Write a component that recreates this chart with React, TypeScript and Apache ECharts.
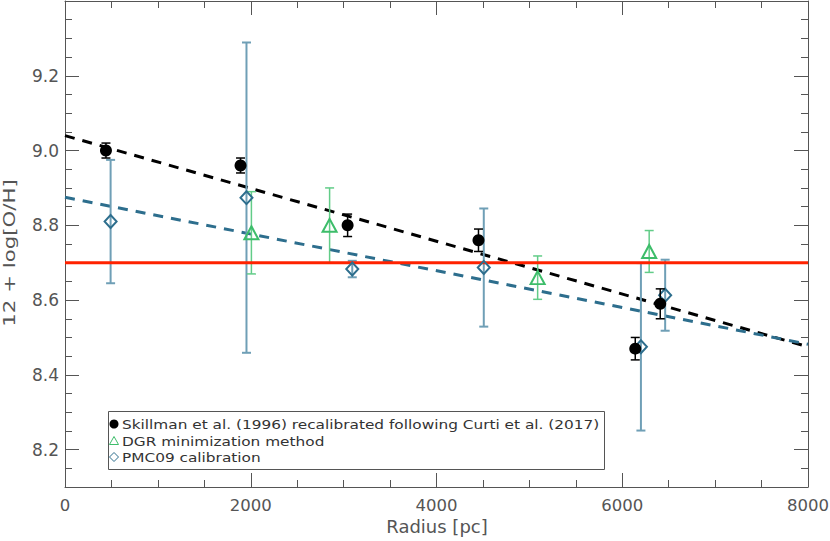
import React, { useEffect, useRef } from "react";
import * as echarts from "echarts";

// Skillman et al. (1996) recalibrated following Curti et al. (2017)
const skillmanR = [441, 1890, 3043, 4452, 6140, 6409];
const skillmanOH = [9.0, 8.96, 8.8, 8.76, 8.47, 8.59];
const skillmanErr = [0.02, 0.02, 0.03, 0.03, 0.03, 0.04];

// DGR minimization method
const dgrR = [2007, 2849, 5089, 6290];
const dgrOH = [8.78, 8.8, 8.66, 8.73];
const dgrErr = [0.11, 0.1, 0.058, 0.056];

// PMC09 calibration
const pmcR = [491, 1954, 3093, 4509, 6201, 6462];
const pmcOH = [8.81, 8.874, 8.683, 8.687, 8.475, 8.613];
const pmcErr = [0.165, 0.415, 0.022, 0.158, 0.224, 0.095];

// gradient fits and solar reference value
const fitRadius = [0, 8000];
const skillmanFit = [9.04, 8.475];
const pmcFit = [8.875, 8.482];
const solarOH = [8.7, 8.7];

const legendLabels = [
  "Skillman et al. (1996) recalibrated following Curti et al. (2017)",
  "DGR minimization method",
  "PMC09 calibration",
];

const AX = "#555";
const FONT = "DejaVu Sans";

function errorSeries(xs: number[], ys: number[], errs: number[], color: string, width: number, capHalf: number, z: number) {
  return {
    type: "custom",
    z,
    silent: true,
    xAxisIndex: 0,
    yAxisIndex: 0,
    data: xs.map((x, i) => [x, ys[i] - errs[i], ys[i] + errs[i]]),
    encode: { x: 0, y: [1, 2] },
    renderItem: (params: any, api: any) => {
      const x = api.value(0);
      const lo = api.coord([x, api.value(1)]);
      const hi = api.coord([x, api.value(2)]);
      const style = { stroke: color, lineWidth: width, fill: "none" };
      return {
        type: "group",
        children: [
          { type: "line", shape: { x1: lo[0], y1: lo[1], x2: hi[0], y2: hi[1] }, style },
          { type: "line", shape: { x1: lo[0] - capHalf, y1: lo[1], x2: lo[0] + capHalf, y2: lo[1] }, style },
          { type: "line", shape: { x1: hi[0] - capHalf, y1: hi[1], x2: hi[0] + capHalf, y2: hi[1] }, style },
        ],
      };
    },
  };
}

function makeX(pos: "bottom" | "top") {
  return {
    type: "value",
    position: pos,
    min: 0,
    max: 8000,
    interval: 2000,
    axisLine: { show: true, onZero: false, lineStyle: { color: AX, width: 1 } },
    axisTick: { show: true, inside: true, length: 14, lineStyle: { color: AX, width: 1 } },
    minorTick: { show: true, splitNumber: 4, length: 7, lineStyle: { color: AX, width: 1 } },
    axisLabel: {
      show: pos === "bottom",
      color: AX,
      fontSize: 16.5,
      fontFamily: FONT,
      margin: 10,
      formatter: (v: number) => String(v),
    },
    splitLine: { show: false },
    minorSplitLine: { show: false },
  };
}

function makeY(pos: "left" | "right") {
  return {
    type: "value",
    position: pos,
    min: 8.1,
    max: 9.4,
    splitNumber: 6,
    minInterval: 0.2,
    maxInterval: 0.2,
    axisLine: { show: true, onZero: false, lineStyle: { color: AX, width: 1 } },
    axisTick: { show: true, inside: true, length: 14, lineStyle: { color: AX, width: 1 } },
    minorTick: { show: true, splitNumber: 4, length: 7, lineStyle: { color: AX, width: 1 } },
    axisLabel: {
      show: pos === "left",
      color: AX,
      fontSize: 17,
      fontFamily: FONT,
      margin: 6,
      showMinLabel: false,
      showMaxLabel: false,
      formatter: (v: number) => v.toFixed(1),
    },
    splitLine: { show: false },
    minorSplitLine: { show: false },
  };
}

export default function App() {
  const ref = useRef<HTMLDivElement>(null);
  useEffect(() => {
    if (!ref.current) return;
    const chart = echarts.init(ref.current, null, { renderer: "svg" });
    const BLUE = "#2d6e8d";
    const BLUE_ERR = "#6f9fb6";
    const GREEN = "#3dbd6a";
    const GREEN_ERR = "#62cc88";
    const option: any = {
      animation: false,
      backgroundColor: "#fff",
      grid: { left: 65, right: 22, top: 1, bottom: 54, containLabel: false, outerBoundsMode: "none" },
      xAxis: [makeX("bottom"), makeX("top")],
      yAxis: [makeY("left"), makeY("right")],
      series: [
        {
          type: "line",
          name: "Skillman fit",
          data: fitRadius.map((r, i) => [r, skillmanFit[i]]),
          symbol: "none",
          z: 2,
          silent: true,
          lineStyle: { color: "#000", width: 3, type: [10, 8] },
        },
        {
          type: "line",
          name: "PMC09 fit",
          data: fitRadius.map((r, i) => [r, pmcFit[i]]),
          symbol: "none",
          z: 2,
          silent: true,
          lineStyle: { color: BLUE, width: 3, type: [10, 8] },
        },
        errorSeries(pmcR, pmcOH, pmcErr, BLUE_ERR, 2, 4.5, 3),
        errorSeries(dgrR, dgrOH, dgrErr, GREEN_ERR, 1.5, 4.5, 3),
        {
          type: "line",
          name: "solar",
          data: fitRadius.map((r, i) => [r, solarOH[i]]),
          symbol: "none",
          z: 4,
          silent: true,
          lineStyle: { color: "#ff2200", width: 3 },
        },
        {
          type: "scatter",
          name: legendLabels[2],
          data: pmcR.map((r, i) => [r, pmcOH[i]]),
          symbol: "diamond",
          symbolSize: [12, 13],
          z: 5,
          itemStyle: { color: "rgba(255,255,255,0)", borderColor: BLUE, borderWidth: 2, opacity: 1 },
        },
        {
          type: "scatter",
          name: legendLabels[1],
          data: dgrR.map((r, i) => [r, dgrOH[i]]),
          symbol: "triangle",
          symbolSize: [14, 13],
          z: 5,
          itemStyle: { color: "rgba(255,255,255,0)", borderColor: GREEN, borderWidth: 2, opacity: 1 },
        },
        errorSeries(skillmanR, skillmanOH, skillmanErr, "#000", 1.5, 4.5, 6),
        {
          type: "scatter",
          name: legendLabels[0],
          data: skillmanR.map((r, i) => [r, skillmanOH[i]]),
          symbol: "circle",
          symbolSize: 12,
          z: 6,
          itemStyle: { color: "#000", opacity: 1 },
        },
      ],
      graphic: [
        {
          type: "text",
          x: 10,
          y: 253,
          rotation: Math.PI / 2,
          scaleX: 1.42,
          style: { text: "12 + log[O/H]", fill: AX, font: `15px "${FONT}"`, align: "center", verticalAlign: "middle" },
        },
        {
          type: "text",
          x: 437,
          y: 527,
          scaleX: 1.06,
          style: { text: "Radius [pc]", fill: AX, font: `17px "${FONT}"`, align: "center", verticalAlign: "middle" },
        },
        {
          type: "rect",
          shape: { x: 108.5, y: 411.5, width: 496, height: 58 },
          style: { fill: "#fff", stroke: AX, lineWidth: 1 },
          z: 10,
        },
        { type: "circle", shape: { cx: 114, cy: 424, r: 4.5 }, style: { fill: "#000" }, z: 11 },
        {
          type: "polygon",
          shape: { points: [[114, 436.5], [109.5, 444.5], [118.5, 444.5]] },
          style: { fill: "none", stroke: GREEN, lineWidth: 1 },
          z: 11,
        },
        {
          type: "polygon",
          shape: { points: [[114, 452.5], [118.5, 457], [114, 461.5], [109.5, 457]] },
          style: { fill: "none", stroke: BLUE, lineWidth: 1 },
          z: 11,
        },
        ...legendLabels.map((t, i) => ({
          type: "text",
          x: 122,
          y: [424, 441, 457][i],
          scaleX: 1.18,
          z: 11,
          style: { text: t, fill: "#333", font: `13px "${FONT}"`, align: "left", verticalAlign: "middle" },
        })),
      ],
    };
    chart.setOption(option);
    return () => chart.dispose();
  }, []);
  return <div ref={ref} style={{ position: "fixed", left: 0, top: 0, width: 830, height: 541 }} />;
}
